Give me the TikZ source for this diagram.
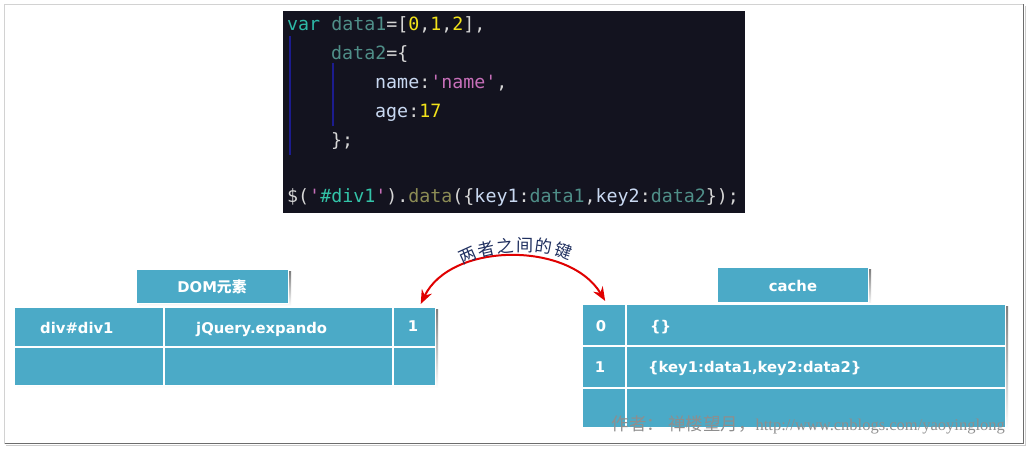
\documentclass[tikz,border=0pt]{standalone}
\usepackage{fontspec}
\setmainfont{DejaVu Sans}
\newfontfamily\cjk{Noto Sans CJK SC}
\newfontfamily\codefont{DejaVu Sans Mono}
\newfontfamily\urlfont{Liberation Serif}
\usetikzlibrary{arrows.meta,decorations.text}
\definecolor{tb}{HTML}{4BAAC7}
\definecolor{codebg}{HTML}{13131F}
\definecolor{ckw}{HTML}{2DB8A6}
\definecolor{cid}{HTML}{4F8E88}
\definecolor{cpl}{HTML}{D6D6D6}
\definecolor{cnum}{HTML}{F2E21A}
\definecolor{ckey}{HTML}{C9D9F2}
\definecolor{cstr}{HTML}{C76FB9}
\definecolor{cfn}{HTML}{8C8C55}
\definecolor{cdiv}{HTML}{33C3A8}
\definecolor{guide}{HTML}{1C1C8E}
\definecolor{navy}{HTML}{1F2F5F}
\definecolor{wm}{HTML}{8E8E8E}
\definecolor{shade}{HTML}{E6E6E6}
\definecolor{arrowred}{HTML}{E00000}
\newcommand\sq{\char"27\relax}
\begin{document}
\begin{tikzpicture}[x=1pt,y=-1pt,
  cell/.style={fill=tb, inner sep=0pt, anchor=north west},
  ctext/.style={text=white, font=\bfseries\fontsize{14.8}{14.8}\selectfont, inner sep=0pt},
  codeline/.style={anchor=base west, inner sep=0pt, font=\codefont\fontsize{18.3}{18.3}\selectfont, text=cpl},
  guideline/.style={draw=guide, line width=2pt},
  >={Stealth[length=14pt,width=11pt]}]
\useasboundingbox (0,0) rectangle (1029,449);
\fill[white] (0,0) rectangle (1029,449);
% frame
\draw[gray!35] (4.5,443.5) -- (4.5,4.5) -- (1023.5,4.5);
\draw[gray!85!black] (1023.5,4.5) -- (1023.5,443.5) -- (4.5,443.5);
\draw[gray!40] (1025,6) -- (1025,445) -- (6,445);

% code box
\node[fill=codebg, minimum width=462pt, minimum height=202pt, anchor=north west, inner sep=0pt] (code) at (283,11) {};
\draw[guideline] (289.5,36) -- (289.5,155);
\draw[guideline] (333,63) -- (333,126);
\node[codeline] (l1) at (287,31) {\textcolor{ckw}{var} \textcolor{cid}{data1}=[\textcolor{cnum}{0},\textcolor{cnum}{1},\textcolor{cnum}{2}],};
\node[codeline] (l2) at (331,60) {\textcolor{cid}{data2}=\{};
\node[codeline] (l3) at (375,89) {\textcolor{ckey}{name}:\textcolor{cstr}{\sq name\sq},};
\node[codeline] (l4) at (375,118) {\textcolor{ckey}{age}:\textcolor{cnum}{17}};
\node[codeline] (l5) at (331,147) {\};};
\node[codeline] (l7) at (287,203) {\$(\textcolor{cstr}{\sq}\textcolor{cdiv}{\#div1}\textcolor{cstr}{\sq}).\textcolor{cfn}{data}(\{\textcolor{ckey}{key1}:\textcolor{cid}{data1},\textcolor{ckey}{key2}:\textcolor{cid}{data2}\});};

% DOM table
\fill[shade] (139,272) rectangle (291,306);
\fill[white] (135,268) rectangle (289,304);
\node[cell, minimum width=151pt, minimum height=33pt] (dh) at (137,270) {};
\node[ctext, anchor=base] (dht) at (212,293) {DOM{\cjk\bfseries 元素}};
\fill[shade] (17,310) rectangle (438,388);
\fill[white] (13,306) rectangle (436,386);
\node[cell, minimum width=148pt, minimum height=38pt] (d11) at (15,308) {};
\node[cell, minimum width=227pt, minimum height=38pt] (d12) at (165,308) {};
\node[cell, minimum width=41pt, minimum height=38pt] (d13) at (394,308) {};
\node[cell, minimum width=148pt, minimum height=37pt] (d21) at (15,348) {};
\node[cell, minimum width=227pt, minimum height=37pt] (d22) at (165,348) {};
\node[cell, minimum width=41pt, minimum height=37pt] (d23) at (394,348) {};
\node[ctext, anchor=base west] (t11) at (40,334) {div\#div1};
\node[ctext, anchor=base west] (t12) at (196,334) {jQuery.expando};
\node[ctext, anchor=base] (t13) at (413,332) {1};

% cache table
\fill[shade] (720,270) rectangle (871,305);
\fill[white] (716,266) rectangle (869,303);
\node[cell, minimum width=150pt, minimum height=34pt] (ch) at (718,268) {};
\node[ctext, anchor=base] (cht) at (793,292) {cache};
\fill[shade] (585,307) rectangle (1008,430);
\fill[white] (581,303) rectangle (1006,428);
\node[cell, minimum width=42pt, minimum height=40pt] (c01) at (583,305) {};
\node[cell, minimum width=378pt, minimum height=40pt] (c02) at (627,305) {};
\node[cell, minimum width=42pt, minimum height=40pt] (c11) at (583,347) {};
\node[cell, minimum width=378pt, minimum height=40pt] (c12) at (627,347) {};
\node[cell, minimum width=42pt, minimum height=38pt] (c21) at (583,389) {};
\node[cell, minimum width=378pt, minimum height=38pt] (c22) at (627,389) {};
\node[ctext, anchor=base] (u01) at (601,332) {0};
\node[ctext, anchor=base west] (u02) at (650,332) {\{\}};
\node[ctext, anchor=base] (u11) at (600,373) {1};
\node[ctext, anchor=base west] (u12) at (648,373) {\{key1:data1,key2:data2\}};

% arrow
\draw[arrowred, line width=2pt, <->] ([xshift=6pt,yshift=4pt]d13.north) .. controls +(30,-62) and +(-36,-60) .. ([xshift=1pt,yshift=4pt]c01.north);
\path[decorate, decoration={text along path, text align=fit to path, text={|\cjk\fontsize{17}{17}\selectfont\color{navy}|两者之间的键}}] (463,265) .. controls (488,249) and (542,247) .. (569,260);

% watermark
\node[anchor=base east, text=wm, inner sep=0pt] (wmk) at (1005,430) {\cjk\fontsize{17.5}{17.5}\selectfont 作者：\ 禅楼望月，{\urlfont\fontsize{16.5}{16.5}\selectfont http://www.cnblogs.com/yaoyinglong}};
\end{tikzpicture}
\end{document}
